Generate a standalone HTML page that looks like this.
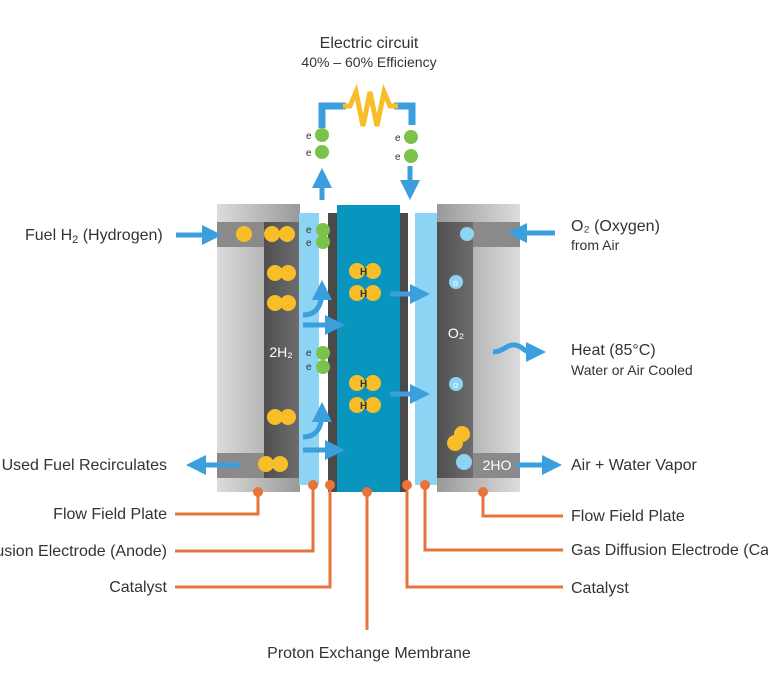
<!DOCTYPE html>
<html><head><meta charset="utf-8"><style>
html,body{margin:0;padding:0;background:#fff;}
svg{display:block;font-family:"Liberation Sans",sans-serif;}
.t{font-size:16px;fill:#333;}
.s{font-size:14px;fill:#333;}
</style></head><body>
<svg width="768" height="698" viewBox="0 0 768 698" xmlns="http://www.w3.org/2000/svg">
<defs>
<linearGradient id="pl" x1="0" x2="1"><stop offset="0" stop-color="#dcdcdc"/><stop offset="1" stop-color="#999"/></linearGradient>
<linearGradient id="pr" x1="1" x2="0"><stop offset="0" stop-color="#dcdcdc"/><stop offset="1" stop-color="#999"/></linearGradient>
<linearGradient id="dk" x1="0" x2="1"><stop offset="0" stop-color="#4f4f4f"/><stop offset="1" stop-color="#6d6d6d"/></linearGradient>
<marker id="ah" markerWidth="4" markerHeight="4" refX="2" refY="2" orient="auto"><path d="M0,0 L4,2 L0,4 z" fill="#3a9fdc"/></marker>
</defs>
<text x="369" y="48" text-anchor="middle" class="t">Electric circuit</text>
<text x="369" y="67" text-anchor="middle" class="s">40% – 60% Efficiency</text>
<polyline points="322,128 322,106 346,106" fill="none" stroke="#3a9fdc" stroke-width="7"/>
<polyline points="394,106 412,106 412,125" fill="none" stroke="#3a9fdc" stroke-width="7"/>
<polyline points="343,106 350,106 356,92 363,126 370,92 377,126 384,92 390,106 398,106" fill="none" stroke="#f7be2a" stroke-width="5" stroke-linejoin="miter"/>
<circle cx="322" cy="135" r="7" fill="#7bc24a"/><circle cx="322" cy="152" r="7" fill="#7bc24a"/>
<circle cx="411" cy="137" r="7" fill="#7bc24a"/><circle cx="411" cy="156" r="7" fill="#7bc24a"/>
<text x="306" y="139" font-size="10" fill="#333">e</text><text x="306" y="156" font-size="10" fill="#333">e</text>
<text x="395" y="141" font-size="10" fill="#333">e</text><text x="395" y="160" font-size="10" fill="#333">e</text>
<line x1="322" y1="200" x2="322" y2="178" stroke="#3a9fdc" stroke-width="5" marker-end="url(#ah)"/>
<line x1="410" y1="166" x2="410" y2="190" stroke="#3a9fdc" stroke-width="5" marker-end="url(#ah)"/>
<rect x="217" y="204" width="83" height="288" fill="url(#pl)"/>
<rect x="217" y="222" width="83" height="25" fill="#8a8a8a"/>
<rect x="217" y="453" width="83" height="25" fill="#8a8a8a"/>
<rect x="264" y="222" width="36" height="256" fill="url(#dk)"/>
<text x="281" y="357" text-anchor="middle" font-size="14" fill="#fff">2H₂</text>
<rect x="299" y="213" width="20" height="272" fill="#8dd3f3"/>
<rect x="328" y="213" width="10" height="279" fill="#4a4a4a"/>
<rect x="337" y="205" width="63" height="287" fill="#0a95bf"/>
<rect x="400" y="213" width="8" height="279" fill="#4a4a4a"/>
<rect x="415" y="213" width="22" height="272" fill="#8dd3f3"/>
<rect x="437" y="204" width="83" height="288" fill="url(#pr)"/>
<rect x="437" y="222" width="83" height="25" fill="#8a8a8a"/>
<rect x="437" y="453" width="83" height="25" fill="#8a8a8a"/>
<rect x="437" y="222" width="36" height="256" fill="url(#dk)"/>
<text x="456" y="338" text-anchor="middle" font-size="14" fill="#fff">O₂</text>
<text x="497" y="470" text-anchor="middle" font-size="14" fill="#fff">2HO</text>
<g fill="#f7be2a">
<circle cx="244" cy="234" r="8"/><circle cx="272" cy="234" r="8"/><circle cx="287" cy="234" r="8"/>
<circle cx="275" cy="273" r="8"/><circle cx="288" cy="273" r="8"/>
<circle cx="275" cy="303" r="8"/><circle cx="288" cy="303" r="8"/>
<circle cx="275" cy="417" r="8"/><circle cx="288" cy="417" r="8"/>
<circle cx="266" cy="464" r="8"/><circle cx="280" cy="464" r="8"/>
<circle cx="357" cy="271" r="8"/><circle cx="373" cy="271" r="8"/>
<circle cx="357" cy="293" r="8"/><circle cx="373" cy="293" r="8"/>
<circle cx="357" cy="383" r="8"/><circle cx="373" cy="383" r="8"/>
<circle cx="357" cy="405" r="8"/><circle cx="373" cy="405" r="8"/>
<circle cx="455" cy="443" r="8"/><circle cx="462" cy="434" r="8"/>
</g>
<g font-size="10" font-weight="bold" fill="#333">
<text x="360" y="275">H</text><text x="360" y="297">H</text><text x="360" y="387">H</text><text x="360" y="409">H</text>
</g>
<g fill="#7bc24a"><circle cx="323" cy="230" r="7"/><circle cx="323" cy="242" r="7"/><circle cx="323" cy="353" r="7"/><circle cx="323" cy="367" r="7"/></g>
<g font-size="10" fill="#333"><text x="306" y="233">e</text><text x="306" y="246">e</text><text x="306" y="356">e</text><text x="306" y="370">e</text></g>
<g fill="#8dd3f3"><circle cx="467" cy="234" r="7"/><circle cx="456" cy="282" r="7"/><circle cx="456" cy="384" r="7"/><circle cx="464" cy="462" r="8"/></g>
<g font-size="9" fill="#fff"><text x="453" y="286">o</text><text x="453" y="388">o</text></g>
<g stroke="#3a9fdc" stroke-width="5" fill="none">
<path d="M303,315 Q322,315 322,290" marker-end="url(#ah)"/>
<path d="M303,437 Q322,437 322,412" marker-end="url(#ah)"/>
<line x1="303" y1="325" x2="335" y2="325" marker-end="url(#ah)"/>
<line x1="303" y1="450" x2="335" y2="450" marker-end="url(#ah)"/>
<line x1="390" y1="294" x2="420" y2="294" marker-end="url(#ah)"/>
<line x1="390" y1="394" x2="420" y2="394" marker-end="url(#ah)"/>
<line x1="176" y1="235" x2="212" y2="235" marker-end="url(#ah)"/>
<line x1="240" y1="465" x2="196" y2="465" marker-end="url(#ah)"/>
<line x1="555" y1="233" x2="517" y2="233" marker-end="url(#ah)"/>
<line x1="516" y1="465" x2="552" y2="465" marker-end="url(#ah)"/>
<path d="M493,352 C503,352 507,344 515,345 C523,346 524,352 530,352 L532,352"/>
<line x1="528" y1="352" x2="536" y2="352" marker-end="url(#ah)"/>
</g>
<g stroke="#e8743b" stroke-width="3" fill="none">
<polyline points="258,492 258,514 175,514"/>
<polyline points="313,485 313,551 175,551"/>
<polyline points="330,485 330,587 175,587"/>
<polyline points="367,492 367,630"/>
<polyline points="407,485 407,587 563,587"/>
<polyline points="425,485 425,550 563,550"/>
<polyline points="483,492 483,516 563,516"/>
</g>
<g fill="#e8743b"><circle cx="258" cy="492" r="5"/><circle cx="313" cy="485" r="5"/><circle cx="330" cy="485" r="5"/><circle cx="367" cy="492" r="5"/><circle cx="407" cy="485" r="5"/><circle cx="425" cy="485" r="5"/><circle cx="483" cy="492" r="5"/></g>
<text x="25" y="240" class="t">Fuel H<tspan font-size="11" dy="3">2</tspan><tspan dy="-3"> (Hydrogen)</tspan></text>
<text x="167" y="470" text-anchor="end" class="t">Used Fuel Recirculates</text>
<text x="167" y="519" text-anchor="end" class="t">Flow Field Plate</text>
<text x="167" y="556" text-anchor="end" class="t">Gas Diffusion Electrode (Anode)</text>
<text x="167" y="592" text-anchor="end" class="t">Catalyst</text>
<text x="369" y="658" text-anchor="middle" class="t">Proton Exchange Membrane</text>
<text x="571" y="231" class="t">O₂ (Oxygen)</text>
<text x="571" y="250" class="s">from Air</text>
<text x="571" y="355" class="t">Heat (85°C)</text>
<text x="571" y="375" class="s">Water or Air Cooled</text>
<text x="571" y="470" class="t">Air + Water Vapor</text>
<text x="571" y="521" class="t">Flow Field Plate</text>
<text x="571" y="555" class="t">Gas Diffusion Electrode (Cathode)</text>
<text x="571" y="593" class="t">Catalyst</text>
</svg>
</body></html>
